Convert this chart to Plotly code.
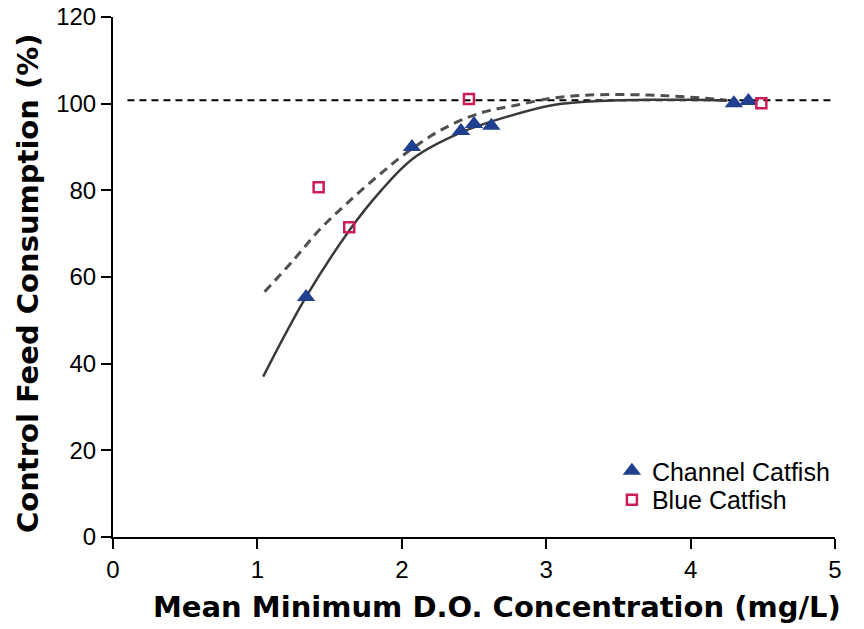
import plotly.graph_objects as go

# ---- data ----
channel_x = [1.337, 2.07, 2.41, 2.50, 2.62, 4.30, 4.40]
channel_y = [55.4, 90.0, 93.7, 95.3, 94.9, 100.1, 100.6]

blue_x = [1.424, 1.636, 2.465, 4.49]
blue_y = [80.7, 71.5, 101.1, 100.1]

# fitted curve for channel catfish (solid)
channel_fit_x = [1.04, 1.337, 1.64, 1.85, 2.08, 2.40, 2.73, 3.05, 3.30, 3.70, 4.00, 4.25]
channel_fit_y = [37.0, 55.4, 70.9, 79.7, 87.4, 93.2, 97.0, 99.7, 100.5, 100.9, 100.9, 100.7]

# fitted curve for blue catfish (dashed)
blue_fit_x = [1.05, 1.25, 1.43, 1.62, 1.83, 2.03, 2.27, 2.54, 2.80, 3.05, 3.30, 3.70, 4.00, 4.25]
blue_fit_y = [56.6, 63.9, 70.9, 77.0, 83.2, 88.6, 93.9, 97.8, 99.7, 101.3, 102.0, 102.0, 101.5, 100.8]

# reference line (100 % of control)
ref_x = [0.1, 5.0]
ref_y = [100.8, 100.8]

x_ticks = [0, 1, 2, 3, 4, 5]
y_ticks = [0, 20, 40, 60, 80, 100, 120]

fig = go.Figure()

fig.add_trace(go.Scatter(x=ref_x, y=ref_y, mode="lines",
                         line=dict(color="black", width=2, dash="7px,5px"),
                         showlegend=False, hoverinfo="skip"))
fig.add_trace(go.Scatter(x=blue_fit_x, y=blue_fit_y, mode="lines",
                         line=dict(color="#505050", width=3, dash="9px,6px", shape="spline"),
                         showlegend=False, hoverinfo="skip"))
fig.add_trace(go.Scatter(x=channel_fit_x, y=channel_fit_y, mode="lines",
                         line=dict(color="#3a3a3a", width=2.5, shape="spline"),
                         showlegend=False, hoverinfo="skip"))
fig.add_trace(go.Scatter(x=channel_x, y=channel_y, mode="markers", name="Channel Catfish",
                         legend="legend",
                         marker=dict(symbol="triangle-up", size=16, color="#213f8f")))
fig.add_trace(go.Scatter(x=blue_x, y=blue_y, mode="markers", name="Blue Catfish",
                         legend="legend2",
                         marker=dict(symbol="square-open", size=10, color="#cc1a5a",
                                     line=dict(width=2.5, color="#cc1a5a"))))

axis_common = dict(showgrid=False, zeroline=False, showline=True, linecolor="black",
                   linewidth=2, ticks="outside", ticklen=10, tickwidth=2, tickcolor="black",
                   automargin=False,
                   tickfont=dict(family="Liberation Sans, Arial, sans-serif", size=24, color="black"))

fig.update_xaxes(range=[0, 5], tickvals=x_ticks, **axis_common)
fig.update_yaxes(range=[0, 120], tickvals=y_ticks, **axis_common)

legend_font = dict(family="Liberation Sans, Arial, sans-serif", size=25, color="black")
title_font = dict(family="DejaVu Sans, sans-serif", size=29, color="black")
fig.update_layout(
    width=864, height=629,
    margin=dict(l=113, r=29, t=17, b=92, autoexpand=False),
    plot_bgcolor="white", paper_bgcolor="white",
    showlegend=True,
    legend=dict(x=0.691, y=0.171, xanchor="left", yanchor="top", font=legend_font,
                bgcolor="rgba(0,0,0,0)", itemwidth=30),
    legend2=dict(x=0.691, y=0.1154, xanchor="left", yanchor="top", font=legend_font,
                 bgcolor="rgba(0,0,0,0)", itemwidth=30),
    annotations=[
        dict(text="<b>Mean Minimum D.O. Concentration (mg/L)</b>", xref="paper", yref="paper",
             x=0.532, y=0, yshift=-70, xanchor="center", yanchor="middle",
             showarrow=False, font=title_font),
        dict(text="<b>Control Feed Consumption (%)</b>", xref="paper", yref="paper",
             x=0, y=0.5, xshift=-85, yshift=-6, xanchor="center", yanchor="middle", textangle=-90,
             showarrow=False, font=title_font),
    ],
)

fig.write_html("out.html", config={"displayModeBar": False},
               post_script="document.body.style.margin='0';document.body.style.padding='0';")
